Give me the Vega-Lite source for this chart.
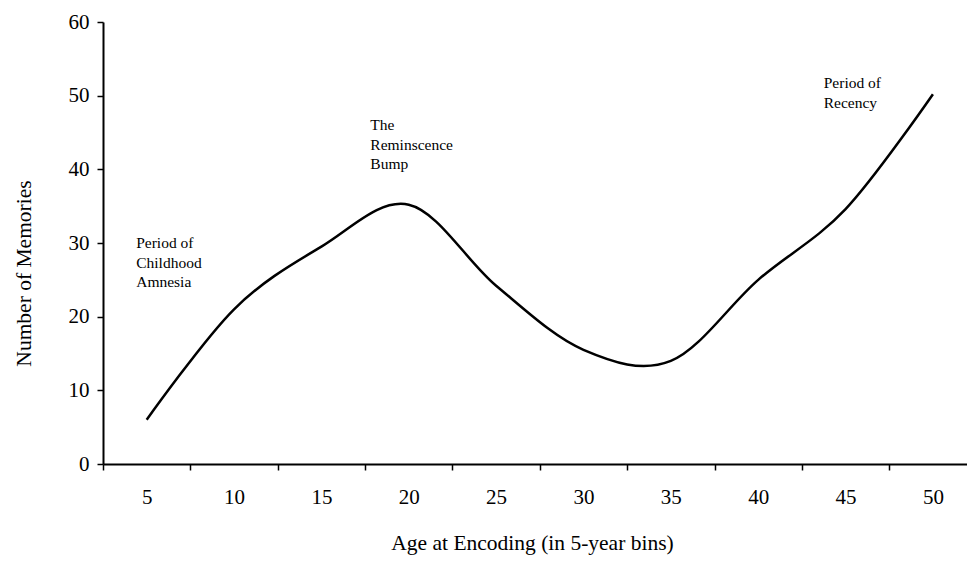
{
  "$schema": "https://vega.github.io/schema/vega-lite/v6.json",
  "width": 864,
  "height": 442,
  "autosize": {"type": "none"},
  "padding": {"left": 103, "top": 22, "right": 0, "bottom": 108},
  "background": "white",
  "config": {
    "view": {"stroke": null},
    "font": "Liberation Serif",
    "axis": {"labelFont": "Liberation Serif", "titleFont": "Liberation Serif"},
    "text": {"font": "Liberation Serif"}
  },
  "layer": [
    {
      "data": {"values": [
        {"age": 5, "memories": 6},
        {"age": 10, "memories": 21},
        {"age": 15, "memories": 29.5},
        {"age": 20, "memories": 35.2},
        {"age": 25, "memories": 24.2},
        {"age": 30, "memories": 15.5},
        {"age": 35, "memories": 14},
        {"age": 40, "memories": 25},
        {"age": 45, "memories": 34.6},
        {"age": 50, "memories": 50.2}
      ]},
      "mark": {"type": "line", "interpolate": "cardinal", "color": "black", "strokeWidth": 2.5},
      "encoding": {
        "x": {
          "field": "age", "type": "quantitative",
          "scale": {"domain": [2.5, 51.95], "nice": false, "zero": false},
          "axis": {
            "values": [2.5, 5, 7.5, 10, 12.5, 15, 17.5, 20, 22.5, 25, 27.5, 30, 32.5, 35, 37.5, 40, 42.5, 45, 47.5, 50],
            "labelExpr": "datum.value % 5 === 0 ? datum.label : ''",
            "tickOpacity": {"condition": {"test": "datum.value % 5 === 0", "value": 0}, "value": 1},
            "grid": false,
            "domainColor": "black", "domainWidth": 2,
            "tickColor": "black", "tickWidth": 1.5, "tickSize": 6,
            "labelFont": "Liberation Serif",
            "labelFontSize": 21, "labelColor": "black", "labelPadding": 16,
            "labelFlush": false, "labelOverlap": false,
            "title": "Age at Encoding (in 5-year bins)",
            "titleFont": "Liberation Serif",
            "titleFontSize": 21.5, "titleFontWeight": "normal", "titleColor": "black",
            "titleX": 429, "titleY": 79, "titleBaseline": "middle", "titleAlign": "center"
          }
        },
        "y": {
          "field": "memories", "type": "quantitative",
          "scale": {"domain": [0, 60], "nice": false},
          "axis": {
            "values": [0, 10, 20, 30, 40, 50, 60],
            "grid": false,
            "domainColor": "black", "domainWidth": 2,
            "tickColor": "black", "tickWidth": 1.5, "tickSize": 6,
            "labelFont": "Liberation Serif",
            "labelFontSize": 21, "labelColor": "black", "labelPadding": 8,
            "title": "Number of Memories",
            "titleFont": "Liberation Serif",
            "titleFontSize": 21.5, "titleFontWeight": "normal", "titleColor": "black",
            "titleX": -79, "titleY": 251, "titleAngle": 270, "titleBaseline": "middle", "titleAlign": "center"
          }
        }
      }
    },
    {
      "data": {"values": [
        {"x": 4.4, "y": 29.3, "label": "Period of|Childhood|Amnesia"},
        {"x": 17.8, "y": 45.3, "label": "The|Reminscence|Bump"},
        {"x": 43.75, "y": 51.0, "label": "Period of|Recency"}
      ]},
      "mark": {"type": "text", "align": "left", "baseline": "alphabetic", "fontSize": 15.5, "lineBreak": "|", "lineHeight": 19.5, "font": "Liberation Serif", "color": "black"},
      "encoding": {
        "x": {"field": "x", "type": "quantitative"},
        "y": {"field": "y", "type": "quantitative"},
        "text": {"field": "label"}
      }
    }
  ]
}
